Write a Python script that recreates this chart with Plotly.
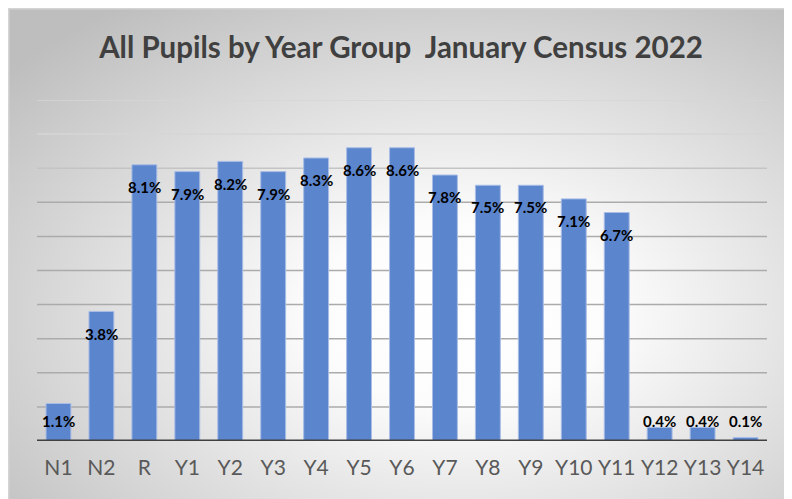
import plotly.graph_objects as go
import urllib.parse

categories = ["N1", "N2", "R", "Y1", "Y2", "Y3", "Y4", "Y5", "Y6", "Y7", "Y8", "Y9", "Y10", "Y11", "Y12", "Y13", "Y14"]
values = [1.1, 3.8, 8.1, 7.9, 8.2, 7.9, 8.3, 8.6, 8.6, 7.8, 7.5, 7.5, 7.1, 6.7, 0.4, 0.4, 0.1]
labels = ["1.1%", "3.8%", "8.1%", "7.9%", "8.2%", "7.9%", "8.3%", "8.6%", "8.6%", "7.8%", "7.5%", "7.5%", "7.1%", "6.7%", "0.4%", "0.4%", "0.1%"]
grid_values = [1, 2, 3, 4, 5, 6, 7, 8, 9, 10]
title_text = "All Pupils by Year Group  January Census 2022"

# page body has an 8px margin, so the figure is offset by 8px
W, H = 784, 491
ML, MR, MT, MB = 29, 25, 92, 58
PW, PH = W - ML - MR, H - MT - MB
FONT = "Lato"

fig = go.Figure()
fig.add_trace(go.Bar(
    x=categories, y=values,
    marker=dict(color="#5B85CD", line=dict(color="#A9BDE6", width=1)),
    hoverinfo="x+y",
))

# data labels
for c, v, t in zip(categories, values, labels):
    fig.add_annotation(
        x=c, y=max(v - 0.65, 0.58), text=t, showarrow=False,
        font=dict(family=FONT, size=15, color="#000000", weight="bold"),
        xanchor="center", yanchor="middle",
    )

# gridlines with slight gradient in colour (lighter near top)
for g in grid_values:
    col = "#D6D6D6" if g >= 9 else ("#C4C4C4" if g == 8 else "#ABABAB")
    fig.add_shape(type="line", xref="paper", yref="y", x0=0, x1=1, y0=g, y1=g,
                  line=dict(color=col, width=1.5), layer="below")
# baseline
fig.add_shape(type="line", xref="paper", yref="y", x0=0, x1=1, y0=0, y1=0,
              line=dict(color="#404040", width=3), layer="above")

# radial gradient background via SVG
bw, bh = W, H
svg = (
    f'<svg xmlns="http://www.w3.org/2000/svg" width="{bw}" height="{bh}" viewBox="0 0 {bw} {bh}">'
    '<defs><radialGradient id="g" cx="58%" cy="62%" r="76%" fx="58%" fy="62%">'
    '<stop offset="0%" stop-color="#FFFFFF"/><stop offset="25%" stop-color="#FCFCFC"/>'
    '<stop offset="100%" stop-color="#BEBEBE"/></radialGradient></defs>'
    f'<rect x="0" y="0" width="{bw}" height="{bh}" fill="url(#g)"/>'
    f'<path d="M0.75 {bh} L0.75 0.75 L{bw} 0.75" fill="none" stroke="#D4D4D4" stroke-width="1.5"/>'
    '</svg>'
)
src = "data:image/svg+xml;charset=utf-8," + urllib.parse.quote(svg)
fig.add_layout_image(
    source=src, xref="paper", yref="paper",
    x=-ML / PW, y=1 + MT / PH,
    sizex=bw / PW, sizey=bh / PH,
    xanchor="left", yanchor="top", sizing="stretch", layer="below",
)

fig.update_layout(
    width=W, height=H,
    margin=dict(l=ML, r=MR, t=MT, b=MB, pad=0),
    paper_bgcolor="#FFFFFF", plot_bgcolor="rgba(0,0,0,0)",
    title=dict(text=title_text, x=393 / W, xanchor="center", y=1 - 40 / H, yanchor="middle",
               font=dict(family=FONT, size=29.5, color="#404040", weight="bold")),
    bargap=0.42, showlegend=False,
    xaxis=dict(showgrid=False, showline=False, zeroline=False, ticks="",
               tickfont=dict(family=FONT, size=21, color="#595959"), ticklabelstandoff=12),
    yaxis=dict(range=[0, 10], showgrid=False, zeroline=False, showticklabels=False, showline=False),
)

fig.write_html("out.html")
